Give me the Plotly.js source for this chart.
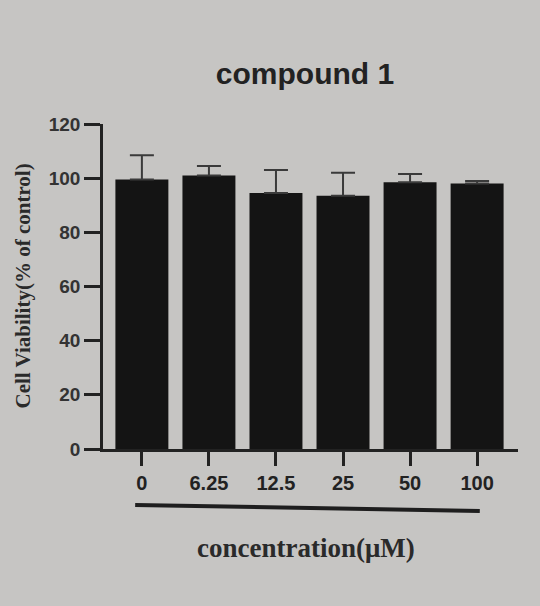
<!DOCTYPE html>
<html>
<head>
<meta charset="utf-8">
<script src="https://cdn.plot.ly/plotly-3.0.1.min.js"></script>
<style>
  html, body { margin: 0; padding: 0; background: #c6c5c3; }
  #chart { width: 540px; height: 606px; }
</style>
</head>
<body>
<div id="chart"></div>
<script>
const concentrations = ['0', '6.25', '12.5', '25', '50', '100'];
const viability = [99.5, 101, 94.5, 93.5, 98.5, 98];
const viabilityErr = [9, 3.5, 8.5, 8.5, 3, 1];

function createViabilityPlot() {
    const trace = {
        type: 'bar',
        x: concentrations,
        y: viability,
        marker: { color: '#141414', line: { width: 0 } },
        error_y: {
            type: 'data',
            array: viabilityErr,
            arrayminus: viabilityErr.map(() => 0),
            symmetric: false,
            color: '#3a3a3a',
            thickness: 2,
            width: 12
        },
        hoverinfo: 'x+y'
    };

    const layout = {
        width: 540,
        height: 606,
        paper_bgcolor: '#c6c5c3',
        plot_bgcolor: '#c6c5c3',
        showlegend: false,
        bargap: 0.21,
        margin: { l: 103, r: 22, t: 124, b: 157 },
        title: {
            text: 'compound 1',
            font: { family: 'Liberation Sans, Arial', size: 30, weight: 'bold', color: '#222' },
            x: 305 / 540,
            xanchor: 'center',
            y: 1 - 73 / 606,
            yanchor: 'middle'
        },
        xaxis: {
            type: 'category',
            range: [-0.58, 5.61],
            showline: true,
            linecolor: '#222',
            linewidth: 2.5,
            ticks: 'outside',
            ticklen: 14,
            tickwidth: 2.5,
            tickcolor: '#222',
            tickfont: { family: 'Liberation Sans, Arial', size: 20, weight: 'bold', color: '#222' },
            showgrid: false,
            zeroline: false
        },
        yaxis: {
            range: [0, 120],
            tickvals: [0, 20, 40, 60, 80, 100, 120],
            showline: true,
            linecolor: '#222',
            linewidth: 2.5,
            ticks: 'outside',
            ticklen: 16,
            tickwidth: 2.5,
            tickcolor: '#222',
            tickfont: { family: 'Liberation Sans, Arial', size: 19, weight: 'bold', color: '#333' },
            showgrid: false,
            zeroline: false
        },
        annotations: [
            {
                text: '<b>Cell Viability(% of control)</b>',
                textangle: -90,
                xref: 'paper', yref: 'paper',
                x: 0, y: 0.5,
                xshift: -81,
                xanchor: 'center', yanchor: 'middle',
                showarrow: false,
                font: { family: 'Liberation Serif, Times New Roman', size: 21, color: '#2a2a2a' }
            },
            {
                text: '<b>concentration(μM)</b>',
                xref: 'paper', yref: 'paper',
                x: (306 - 103) / 415, y: 0,
                yshift: -99,
                xanchor: 'center', yanchor: 'middle',
                showarrow: false,
                font: { family: 'Liberation Serif, Times New Roman', size: 27, color: '#2a2a2a' }
            }
        ],
        shapes: [
            {
                type: 'line',
                xref: 'x', yref: 'paper',
                x0: -0.1, x1: 5.04,
                y0: -56 / 325, y1: -62 / 325,
                line: { color: '#1e1e1e', width: 4 }
            }
        ]
    };

    const config = { displayModeBar: false, responsive: false };

    Plotly.newPlot('chart', [trace], layout, config);
}

createViabilityPlot();
</script>
</body>
</html>
